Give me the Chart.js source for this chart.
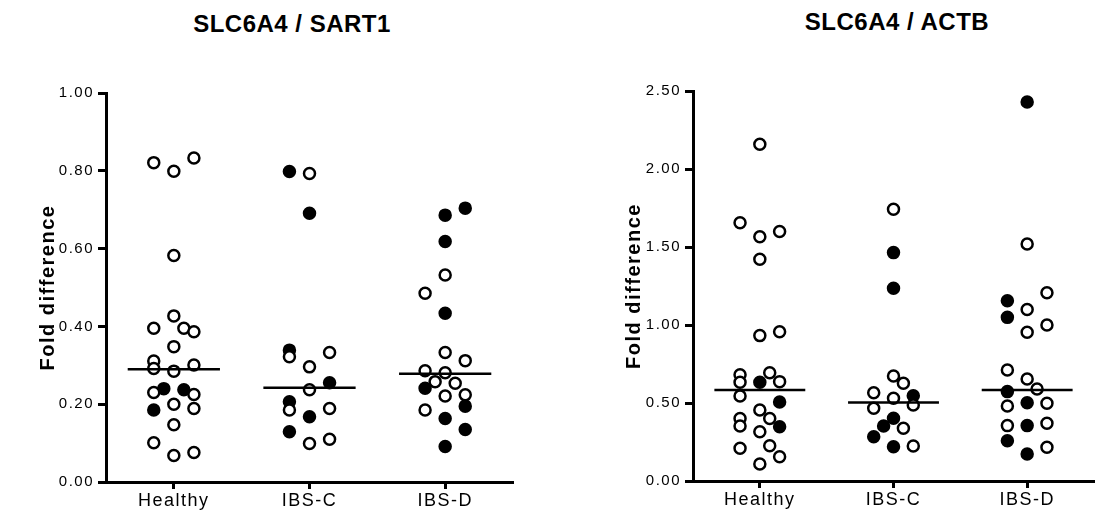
<!DOCTYPE html>
<html lang="en">
<head>
  <meta charset="UTF-8">
  <title>SLC6A4 fold difference</title>
  <script src="https://cdn.jsdelivr.net/npm/chart.js"></script>
  <style>
    body { margin: 0; background: #fff; overflow: hidden; }
    .panel { position: absolute; top: 0; height: 514px; }
    .chart-title {
      position: absolute; margin: 0; width: 400px; text-align: center;
      font: bold 24px "Liberation Sans", Arial, sans-serif; letter-spacing: 0.5px;
      line-height: 28px; color: #000;
    }
  </style>
</head>
<body>
  <h2 class="chart-title" style="left:92px; top:10px;">SLC6A4 / SART1</h2>
  <h2 class="chart-title" style="left:697px; top:8px;">SLC6A4 / ACTB</h2>
  <div class="panel" style="left:0; width:560px;"><canvas id="sart1Chart"></canvas></div>
  <div class="panel" style="left:580px; width:522px;"><canvas id="actbChart"></canvas></div>

  <script>
    const categories = ['Healthy', 'IBS-C', 'IBS-D'];

    // SLC6A4 / SART1 - valores, coluna do jitter, preenchido (1) ou aberto (0)
    const sart1HealthyValues = [0.821, 0.799, 0.833, 0.582, 0.427, 0.395, 0.395, 0.386, 0.348, 0.311, 0.292, 0.285, 0.301, 0.230, 0.240, 0.237, 0.225, 0.200, 0.185, 0.189, 0.147, 0.101, 0.068, 0.076];
    const sart1HealthyCols   = [-2, 0, 2, 0, 0, -2, 1, 2, 0, -2, -2, 0, 2, -2, -1, 1, 2, 0, -2, 2, 0, -2, 0, 2];
    const sart1HealthyFill   = [0, 0, 0, 0, 0, 0, 0, 0, 0, 0, 0, 0, 0, 0, 1, 1, 0, 0, 1, 0, 0, 0, 0, 0];

    const sart1IbsCValues = [0.798, 0.793, 0.691, 0.339, 0.322, 0.333, 0.296, 0.255, 0.237, 0.206, 0.185, 0.189, 0.168, 0.129, 0.099, 0.110];
    const sart1IbsCCols   = [-2, 0, 0, -2, -2, 2, 0, 2, 0, -2, -2, 2, 0, -2, 0, 2];
    const sart1IbsCFill   = [1, 0, 1, 1, 0, 0, 0, 1, 0, 1, 0, 0, 1, 1, 0, 0];

    const sart1IbsDValues = [0.686, 0.704, 0.618, 0.532, 0.485, 0.434, 0.333, 0.312, 0.286, 0.281, 0.258, 0.254, 0.241, 0.221, 0.224, 0.195, 0.185, 0.163, 0.135, 0.091];
    const sart1IbsDCols   = [0, 2, 0, 0, -2, 0, 0, 2, -2, 0, -1, 1, -2, 0, 2, 2, -2, 0, 2, 0];
    const sart1IbsDFill   = [1, 1, 1, 0, 0, 1, 0, 0, 0, 0, 0, 0, 1, 0, 0, 1, 0, 1, 1, 1];

    const sart1Medians = [0.290, 0.242, 0.278];
    const sart1Ticks = [0, 0.2, 0.4, 0.6, 0.8, 1.0];

    // SLC6A4 / ACTB
    const actbHealthyValues = [2.158, 1.656, 1.566, 1.600, 1.421, 0.932, 0.957, 0.681, 0.694, 0.633, 0.633, 0.637, 0.545, 0.506, 0.455, 0.400, 0.400, 0.353, 0.348, 0.316, 0.210, 0.226, 0.156, 0.109];
    const actbHealthyCols   = [0, -2, 0, 2, 0, 0, 2, -2, 1, -2, 0, 2, -2, 2, 0, 1, -2, -2, 2, 0, -2, 1, 2, 0];
    const actbHealthyFill   = [0, 0, 0, 0, 0, 0, 0, 0, 0, 0, 1, 0, 0, 1, 0, 0, 0, 0, 1, 0, 0, 0, 0, 0];

    const actbIbsCValues = [1.742, 1.464, 1.235, 0.673, 0.626, 0.566, 0.547, 0.530, 0.466, 0.487, 0.402, 0.353, 0.338, 0.284, 0.220, 0.224];
    const actbIbsCCols   = [0, 0, 0, 0, 1, -2, 2, 0, -2, 2, 0, -1, 1, -2, 0, 2];
    const actbIbsCFill   = [0, 1, 1, 0, 0, 0, 1, 0, 0, 0, 1, 1, 0, 1, 1, 0];

    const actbIbsDValues = [2.430, 1.519, 1.207, 1.156, 1.100, 1.049, 1.000, 0.953, 0.712, 0.654, 0.590, 0.573, 0.481, 0.502, 0.498, 0.355, 0.355, 0.370, 0.258, 0.216, 0.173];
    const actbIbsDCols   = [0, 0, 2, -2, 0, -2, 2, 0, -2, 0, 1, -2, -2, 0, 2, -2, 0, 2, -2, 2, 0];
    const actbIbsDFill   = [1, 0, 0, 1, 0, 1, 0, 0, 0, 0, 0, 1, 0, 1, 0, 0, 1, 0, 1, 0, 1];

    const actbMedians = [0.583, 0.504, 0.583];
    const actbTicks = [0, 0.5, 1.0, 1.5, 2.0, 2.5];

    const JITTER = 0.074;     // largura de uma coluna do jitter (unidades do eixo x)
    const MEDIAN_HALF = 0.34; // meia largura da linha da mediana
    const FONT = '"Liberation Sans", Arial, sans-serif';

    Chart.defaults.font.family = FONT;
    Chart.defaults.color = '#000';

    // espaçamento entre letras, como no original
    const letterSpacing = {
      id: 'letterSpacing',
      beforeDraw(chart) { chart.ctx.letterSpacing = '1.5px'; },
      afterDraw(chart) { chart.ctx.letterSpacing = '0px'; }
    };

    function groupPoints(groups, filled) {
      const out = [];
      groups.forEach((g, gi) => {
        g.values.forEach((v, i) => {
          if (g.fill[i] === filled) out.push({ x: gi + 1 + g.cols[i] * JITTER, y: v });
        });
      });
      return out;
    }

    function buildChart(id, groups, medians, ticks, yPad, titlePad) {
      const medianSets = medians.map((m, i) => ({
        type: 'line',
        data: [{ x: i + 1 - MEDIAN_HALF, y: m }, { x: i + 1 + MEDIAN_HALF, y: m }],
        borderColor: '#000',
        borderWidth: 2.5,
        pointRadius: 0,
        fill: false
      }));

      return new Chart(document.getElementById(id), {
        type: 'scatter',
        data: {
          datasets: [
            ...medianSets,
            {
              label: 'open',
              data: groupPoints(groups, 0),
              backgroundColor: '#fff',
              borderColor: '#000',
              borderWidth: 2.5,
              pointRadius: 5.5
            },
            {
              label: 'filled',
              data: groupPoints(groups, 1),
              backgroundColor: '#000',
              borderColor: '#000',
              borderWidth: 2.5,
              pointRadius: 5.5
            }
          ]
        },
        options: {
          responsive: true,
          maintainAspectRatio: false,
          animation: false,
          layout: { padding: yPad.layout },
          plugins: {
            legend: { display: false },
            tooltip: { enabled: false }
          },
          scales: {
            x: {
              type: 'linear',
              min: 0.5,
              max: 3.5,
              afterBuildTicks: (scale) => { scale.ticks = categories.map((c, i) => ({ value: i + 1 })); },
              afterFit: (scale) => { scale.height = yPad.xHeight; },
              grid: { drawOnChartArea: false, drawTicks: true, tickLength: 7, tickWidth: 3, color: '#000' },
              border: { display: true, width: 3, color: '#000' },
              ticks: {
                callback: (value) => categories[Math.round(value) - 1],
                color: '#000',
                font: { size: 18 },
                padding: 1,
                maxRotation: 0
              }
            },
            y: {
              min: ticks[0],
              max: ticks[ticks.length - 1],
              afterBuildTicks: (scale) => { scale.ticks = ticks.map(v => ({ value: v })); },
              afterFit: (scale) => { scale.width = yPad.yWidth; },
              grid: { drawOnChartArea: false, drawTicks: true, tickLength: 8, tickWidth: 3, color: '#000' },
              border: { display: true, width: 3, color: '#000' },
              ticks: {
                callback: (value) => value.toFixed(2),
                color: '#000',
                font: { size: 15 },
                padding: 4
              },
              title: {
                display: true,
                text: 'Fold difference',
                color: '#000',
                font: { size: 20, weight: 'bold' },
                padding: { top: titlePad, bottom: 0 }
              }
            }
          }
        },
        plugins: [letterSpacing]
      });
    }

    buildChart('sart1Chart', [
      { values: sart1HealthyValues, cols: sart1HealthyCols, fill: sart1HealthyFill },
      { values: sart1IbsCValues, cols: sart1IbsCCols, fill: sart1IbsCFill },
      { values: sart1IbsDValues, cols: sart1IbsDCols, fill: sart1IbsDFill }
    ], sart1Medians, sart1Ticks,
      { layout: { top: 93, right: 47, left: 0, bottom: 0 }, xHeight: 32, yWidth: 106 }, 36);

    buildChart('actbChart', [
      { values: actbHealthyValues, cols: actbHealthyCols, fill: actbHealthyFill },
      { values: actbIbsCValues, cols: actbIbsCCols, fill: actbIbsCFill },
      { values: actbIbsDValues, cols: actbIbsDCols, fill: actbIbsDFill }
    ], actbMedians, actbTicks,
      { layout: { top: 91, right: 1, left: 0, bottom: 0 }, xHeight: 33, yWidth: 113 }, 42);
  </script>
</body>
</html>
